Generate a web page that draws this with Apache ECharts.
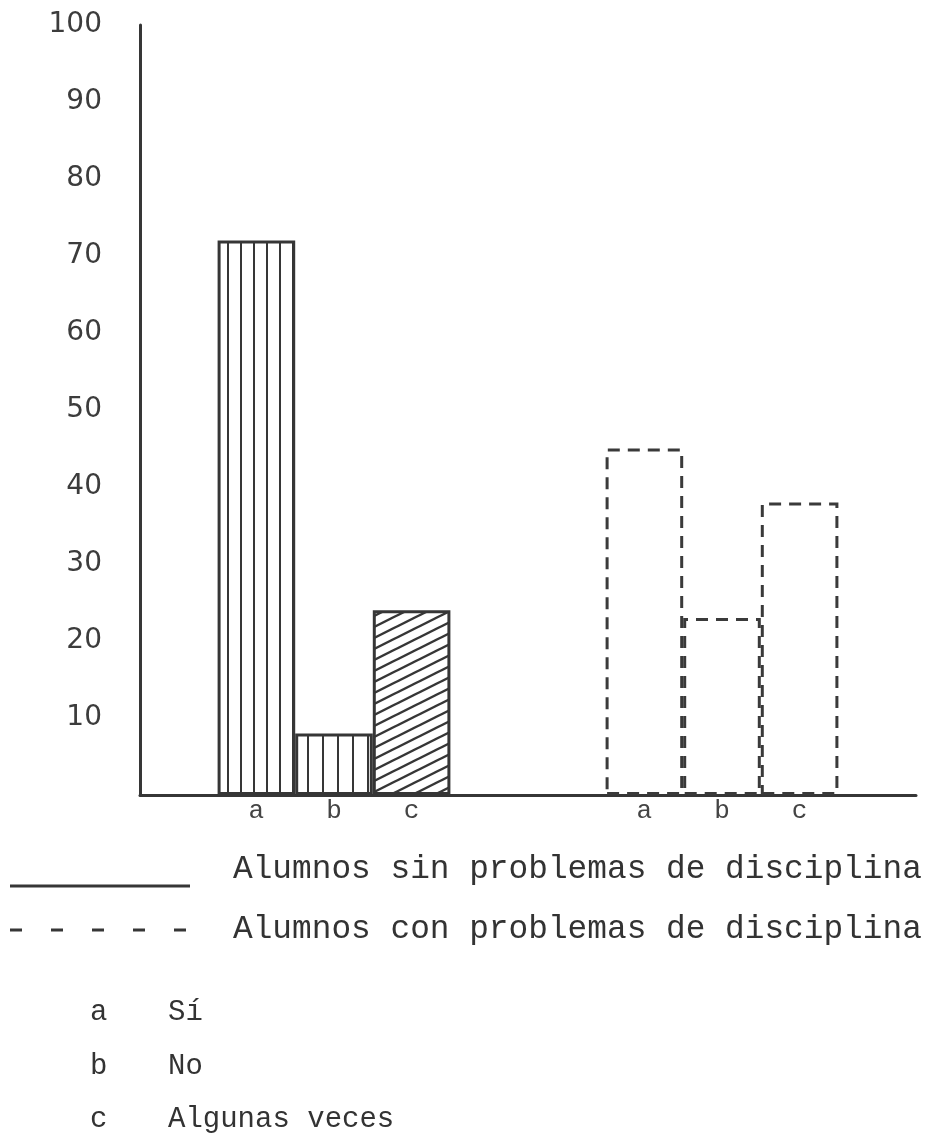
<!DOCTYPE html>
<html>
<head>
<meta charset="utf-8">
<script src="https://cdn.jsdelivr.net/npm/echarts@6/dist/echarts.min.js"></script>
<style>
  html, body { margin: 0; padding: 0; background: #fff; }
  #chart { width: 932px; height: 1141px; }
</style>
</head>
<body>
<div id="chart"></div>
<script>
// ---- data ----
const categories = ['', 'a', 'b', 'c', '', '', 'a', 'b', 'c', ''];
const sinValues = ['-', 72, 8, 24, '-', '-', '-', '-', '-', '-'];
const conValues = ['-', '-', '-', '-', '-', '-', 45, 23, 38, '-'];
const yTickLabels = ['10', '20', '30', '40', '50', '60', '70', '80', '90', '100'];
const seriesNames = ['Alumnos sin problemas de disciplina', 'Alumnos con problemas de disciplina'];
const keyLetters = ['a', 'b', 'c'];
const keyLabels = ['Sí', 'No', 'Algunas veces'];

// ---- hatch patterns ----
const INK = '#363636';
function vPattern(w, lw) {
  const c = document.createElement('canvas');
  c.width = w; c.height = 10;
  const g = c.getContext('2d');
  g.fillStyle = '#fff'; g.fillRect(0, 0, w, 10);
  g.fillStyle = INK; g.fillRect(Math.floor(w / 2), 0, lw, 10);
  return c;
}
function dPattern() {
  const w = 22, h = 11;
  const c = document.createElement('canvas');
  c.width = w; c.height = h;
  const g = c.getContext('2d');
  g.fillStyle = '#fff'; g.fillRect(0, 0, w, h);
  g.strokeStyle = INK; g.lineWidth = 2.4;
  for (let k = -2; k <= 2; k++) {
    g.beginPath();
    g.moveTo(-22, h + 11 + k * h);
    g.lineTo(44, h - 22 + k * h);
    g.stroke();
  }
  return c;
}
const hatchByLetter = {
  a: vPattern(13, 2),
  b: vPattern(15, 2),
  c: dPattern()
};

const sinData = sinValues.map((v, i) => {
  if (v === '-') return '-';
  return {
    value: v,
    itemStyle: { color: { image: hatchByLetter[categories[i]], repeat: 'repeat' } }
  };
});

const FONT_MONO = '"Liberation Mono", "DejaVu Sans Mono", monospace';
const FONT_SANS = '"DejaVu Sans", sans-serif';

const chart = echarts.init(document.getElementById('chart'));

const graphics = [];
// series legend
const legendY = [869, 929];
const lineY = [886, 930];
seriesNames.forEach((name, i) => {
  graphics.push({
    type: 'line',
    shape: { x1: 10, y1: lineY[i], x2: 190, y2: lineY[i] },
    style: { stroke: INK, lineWidth: 3, lineDash: i === 0 ? null : [12, 29] }
  });
  graphics.push({
    type: 'text',
    x: 233, y: legendY[i],
    style: { text: name, font: '32.8px ' + FONT_MONO, fill: '#333', textVerticalAlign: 'middle' }
  });
});
// category key
const keyY = [1012, 1066, 1119];
keyLetters.forEach((l, i) => {
  graphics.push({
    type: 'text', x: 90, y: keyY[i],
    style: { text: l, font: '29px ' + FONT_MONO, fill: '#333', textVerticalAlign: 'middle' }
  });
  graphics.push({
    type: 'text', x: 168, y: keyY[i],
    style: { text: keyLabels[i], font: '29px ' + FONT_MONO, fill: '#333', textVerticalAlign: 'middle' }
  });
});

chart.setOption({
  animation: false,
  backgroundColor: '#ffffff',
  grid: { left: 140, right: 16, top: 25, bottom: 346, containLabel: false },
  xAxis: {
    type: 'category',
    data: categories,
    boundaryGap: true,
    axisLine: { show: true, lineStyle: { color: INK, width: 3 } },
    axisTick: { show: false },
    axisLabel: { margin: 3, fontFamily: FONT_MONO, fontSize: 26, color: '#444' },
    splitLine: { show: false }
  },
  yAxis: {
    type: 'value',
    min: 0, max: 100, interval: 10,
    axisLine: { show: true, lineStyle: { color: INK, width: 3 } },
    axisTick: { show: false },
    splitLine: { show: false },
    axisLabel: {
      margin: 38,
      fontFamily: FONT_SANS, fontSize: 28, color: '#3c3c3c',
      formatter: v => (v === 0 ? '' : yTickLabels[Math.round(v / 10) - 1])
    }
  },
  series: [
    {
      name: seriesNames[0],
      type: 'bar',
      data: sinData,
      barWidth: '100%',
      barGap: '-100%',
      itemStyle: { borderColor: INK, borderWidth: 3 }
    },
    {
      name: seriesNames[1],
      type: 'bar',
      data: conValues,
      barWidth: '100%',
      barGap: '-100%',
      itemStyle: {
        color: 'rgba(0,0,0,0)',
        borderColor: '#3a3a3a',
        borderWidth: 3,
        borderType: [12, 8]
      }
    }
  ],
  graphic: graphics
});
</script>
</body>
</html>
